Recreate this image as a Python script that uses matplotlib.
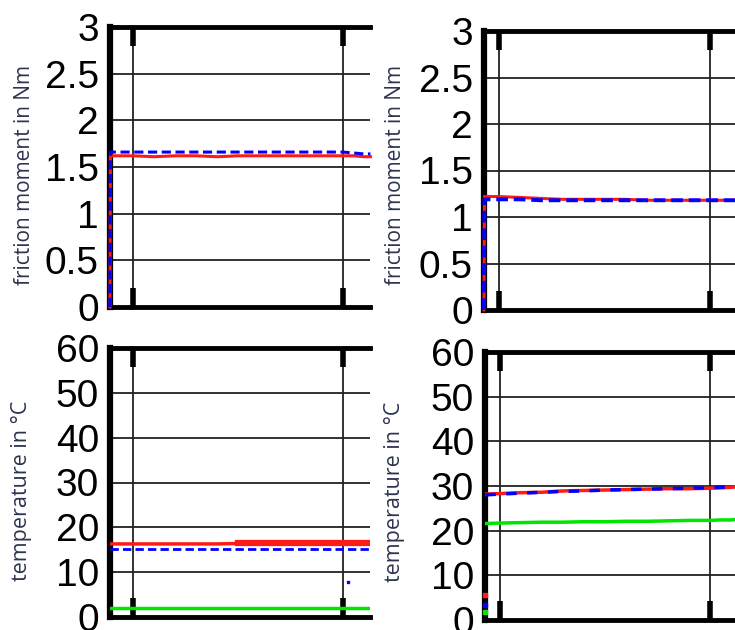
import numpy as np
import matplotlib.pyplot as plt

plt.rcParams['font.family'] = ['Liberation Sans', 'DejaVu Sans']

# time axis (arbitrary units, grid lines at 0 and 10)
t_left = [-1.1, -1.08, 0.0, 1.0, 2.0, 3.0, 4.0, 5.0, 6.0, 7.0, 8.0, 9.0, 10.0, 10.5, 11.0, 11.3]
t_right = [-0.71, -0.69, 0.0, 1.0, 2.0, 3.0, 4.0, 5.0, 6.0, 7.0, 8.0, 9.0, 10.0, 10.5, 11.0, 11.2]

# friction moment in Nm
fric_l_red = [0.0, 1.62, 1.62, 1.61, 1.62, 1.62, 1.61, 1.62, 1.62, 1.62, 1.62, 1.62, 1.62, 1.62, 1.61, 1.61]
fric_l_blue = [0.0, 1.66, 1.66, 1.66, 1.66, 1.66, 1.66, 1.66, 1.66, 1.66, 1.66, 1.66, 1.66, 1.65, 1.64, 1.64]
fric_r_red = [0.0, 1.22, 1.22, 1.21, 1.2, 1.19, 1.19, 1.19, 1.19, 1.18, 1.18, 1.18, 1.18, 1.18, 1.18, 1.18]
fric_r_blue = [0.0, 1.19, 1.19, 1.19, 1.18, 1.18, 1.18, 1.18, 1.18, 1.18, 1.18, 1.18, 1.18, 1.18, 1.18, 1.18]

# temperature in degC
temp_l_red = [16.3, 16.3, 16.3, 16.3, 16.3, 16.3, 16.3, 16.4, 16.4, 16.4, 16.4, 16.4, 16.4, 16.4, 16.4, 16.4]
temp_l_blue = [15.2, 15.2, 15.2, 15.2, 15.2, 15.2, 15.2, 15.2, 15.2, 15.2, 15.2, 15.2, 15.2, 15.2, 15.2, 15.2]
temp_l_green = [2.0, 2.0, 2.0, 2.0, 2.0, 2.0, 2.0, 2.0, 2.0, 2.0, 2.0, 2.0, 2.0, 2.0, 2.0, 2.0]
temp_r_red = [28.2, 28.2, 28.3, 28.5, 28.6, 28.9, 29.0, 29.1, 29.2, 29.3, 29.4, 29.4, 29.5, 29.6, 29.7, 29.8]
temp_r_blue = [28.0, 28.0, 28.2, 28.4, 28.6, 28.8, 28.9, 29.1, 29.2, 29.3, 29.4, 29.5, 29.6, 29.7, 29.8, 29.9]
temp_r_green = [21.6, 21.6, 21.7, 21.8, 21.9, 21.9, 22.0, 22.0, 22.1, 22.1, 22.2, 22.3, 22.3, 22.4, 22.4, 22.5]
start_r = [5.6, 3.4, 1.8]  # first readings red, blue, green (right panel)

fric_ticks = [0, 0.5, 1, 1.5, 2, 2.5, 3]
fric_labels = ['0', '0.5', '1', '1.5', '2', '2.5', '3']
temp_ticks = [0, 10, 20, 30, 40, 50, 60]

RED = '#ff1a1a'
BLUE = '#0000ff'
GREEN = '#00e600'
LABEL_COL = '#2b3550'


def style_axes(ax, xlim, yticks, ylabels, ylabel, lsize, lpos):
    ax.set_xlim(xlim)
    ax.set_ylim(yticks[0], yticks[-1])
    ax.set_xticks([0, 10])
    ax.set_xticklabels([])
    ax.set_yticks(yticks)
    ax.set_yticklabels(ylabels, fontsize=28)
    ax.tick_params(axis='y', length=0, pad=8)
    ax.tick_params(axis='x', direction='in', length=14, width=4, top=True, bottom=True)
    ax.grid(True, color='#222222', linewidth=1.3)
    for side in ['left', 'top', 'bottom']:
        ax.spines[side].set_linewidth(3.5)
    ax.spines['left'].set_linewidth(4.5)
    ax.spines['right'].set_visible(False)
    ax.set_ylabel(ylabel, fontsize=lsize, family=['Open Sans', 'DejaVu Sans'],
                  color=LABEL_COL)
    ax.yaxis.set_label_coords(*lpos)


fig = plt.figure(figsize=(7.35, 6.3), dpi=100)
ax_tl = fig.add_axes([110/735, 1-307/630, 260/735, 280/630])
ax_tr = fig.add_axes([484/735, 1-310/630, 251/735, 279/630])
ax_bl = fig.add_axes([110/735, 1-617/630, 260/735, 269/630])
ax_br = fig.add_axes([485/735, 1-620/630, 250/735, 268/630])

# friction, left
ax_tl.plot(t_left, fric_l_red, color=RED, lw=2.2, zorder=3, clip_on=False)
ax_tl.plot(t_left, fric_l_blue, color=BLUE, lw=2.2, ls=(0, (3, 1.5)), zorder=3, clip_on=False)
style_axes(ax_tl, (-1.1, 11.28), fric_ticks, fric_labels, 'friction moment in Nm',
           15, (-0.29, 0.471))

# friction, right
ax_tr.plot(t_right, fric_r_red, color=RED, lw=2.2, zorder=3, clip_on=False)
ax_tr.plot(t_right, fric_r_blue, color=BLUE, lw=2.8, ls=(0, (3, 1.5)), zorder=3, clip_on=False)
style_axes(ax_tr, (-0.71, 11.19), fric_ticks, fric_labels, 'friction moment in Nm',
           15, (-0.31, 0.484))

# temperature, left
ax_bl.plot(t_left[:8], temp_l_red[:8], color=RED, lw=2.5, zorder=3)
ax_bl.plot(t_left[7:], temp_l_red[7:], color=RED, lw=4.5, zorder=3)
ax_bl.plot(t_left, temp_l_blue, color=BLUE, lw=2.0, ls=(0, (3, 1.5)), zorder=3)
ax_bl.plot(t_left, temp_l_green, color=GREEN, lw=2.5, zorder=3)
ax_bl.plot([10.25], [7.8], marker='s', ms=2, color=BLUE, ls='none', zorder=3)
style_axes(ax_bl, (-1.1, 11.28), temp_ticks, [str(v) for v in temp_ticks], 'temperature in °C',
           15.5, (-0.3, 0.468))

# temperature, right
ax_br.plot(t_right[1:], temp_r_red[1:], color=RED, lw=2.5, zorder=3)
ax_br.plot(t_right[1:], temp_r_blue[1:], color=BLUE, lw=2.5, ls=(0, (3, 3)), zorder=3)
ax_br.plot(t_right[1:], temp_r_green[1:], color=GREEN, lw=2.5, zorder=3)
for val, col in zip(start_r, [RED, BLUE, GREEN]):
    ax_br.plot([t_right[0]], [val], marker='s', ms=3, color=col, ls='none',
               zorder=4, clip_on=False)
style_axes(ax_br, (-0.71, 11.19), temp_ticks, [str(v) for v in temp_ticks], 'temperature in °C',
           15.5, (-0.32, 0.48))

fig.savefig('out.png', dpi=100)
